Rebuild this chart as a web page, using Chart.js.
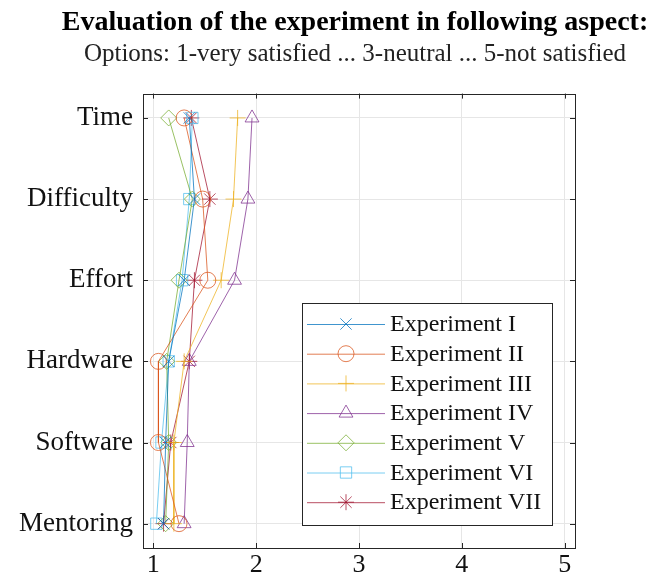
<!DOCTYPE html>
<html><head><meta charset="utf-8">
<script src="https://cdn.jsdelivr.net/npm/chart.js@4.4.1/dist/chart.umd.min.js"></script>
<style>html,body{margin:0;padding:0;background:#fff;overflow:hidden}#wrap{width:651px;height:578px;position:relative;overflow:hidden}#c{position:absolute;left:0;top:0}</style>
</head><body><div id="wrap"><canvas id="c" width="710" height="578"></canvas></div>
<script>
const categories = ['Time', 'Difficulty', 'Effort', 'Hardware', 'Software', 'Mentoring'];
const seriesNames = ['Experiment I', 'Experiment II', 'Experiment III', 'Experiment IV', 'Experiment V', 'Experiment VI', 'Experiment VII'];
const expI   = [1.35, 1.40, 1.30, 1.15, 1.12, 1.10];
const expII  = [1.30, 1.48, 1.53, 1.05, 1.05, 1.25];
const expIII = [1.82, 1.78, 1.66, 1.30, 1.20, 1.20];
const expIV  = [1.96, 1.92, 1.79, 1.35, 1.33, 1.30];
const expV   = [1.15, 1.38, 1.25, 1.13, 1.15, 1.12];
const expVI  = [1.38, 1.35, 1.28, 1.15, 1.08, 1.03];
const expVII = [1.37, 1.55, 1.40, 1.35, 1.17, 1.10];
const xTicks = [1, 2, 3, 4, 5];
const titleText = 'Evaluation of the experiment in following aspect:';
const subtitleText = 'Options: 1-very satisfied ... 3-neutral ... 5-not satisfied';

const allSeries = [expI, expII, expIII, expIV, expV, expVI, expVII];
const colors = ['rgba(0,114,189,0.75)', 'rgba(217,83,25,0.75)', 'rgba(237,177,32,0.75)', 'rgba(126,47,142,0.75)', 'rgba(119,172,48,0.75)', 'rgba(77,190,238,0.75)', 'rgba(162,20,47,0.75)'];
const styles = ['crossRot', 'circle', 'cross', 'triangle', 'rectRot', 'rect', 'star'];
const FONT = "'Liberation Serif', 'Times New Roman', serif";

const datasets = allSeries.map((vals, k) => ({
  label: seriesNames[k],
  data: vals.map((v, i) => ({ x: v, y: categories.length - i })),
  borderColor: colors[k],
  backgroundColor: 'rgba(0,0,0,0)',
  pointBorderColor: colors[k],
  pointBackgroundColor: 'rgba(0,0,0,0)',
  pointStyle: styles[k],
  pointRadius: 8,
  pointBorderWidth: 1,
  borderWidth: 1,
  showLine: true,
  tension: 0
}));

function drawMark(ctx, style, x, y, r, color) {
  ctx.save();
  ctx.strokeStyle = color; ctx.lineWidth = 1;
  if (Chart.helpers && Chart.helpers.drawPoint) {
    ctx.fillStyle = 'rgba(0,0,0,0)';
    Chart.helpers.drawPoint(ctx, { pointStyle: style, radius: r, rotation: 0, borderWidth: 1 }, x, y);
  }
  ctx.restore();
}

const framePlugin = {
  id: 'frame',
  afterDatasetsDraw(chart) {
    const ctx = chart.ctx, a = chart.chartArea;
    const xs = chart.scales.x, ys = chart.scales.y;
    ctx.save();
    ctx.strokeStyle = '#262626'; ctx.lineWidth = 1;
    ctx.strokeRect(Math.round(a.left) + 0.5, Math.round(a.top) + 0.5, Math.round(a.right - a.left), Math.round(a.bottom - a.top));
    ctx.beginPath();
    xTicks.forEach(v => {
      const px = Math.round(xs.getPixelForValue(v)) + 0.5;
      ctx.moveTo(px, a.bottom); ctx.lineTo(px, a.bottom - 5);
      ctx.moveTo(px, a.top); ctx.lineTo(px, a.top + 5);
    });
    categories.forEach((c, i) => {
      const py = Math.round(ys.getPixelForValue(categories.length - i)) + 0.5;
      ctx.moveTo(a.left, py); ctx.lineTo(a.left + 5, py);
      ctx.moveTo(a.right, py); ctx.lineTo(a.right - 5, py);
    });
    ctx.stroke();
    // legend
    const lx = 302, ly = 303, lw = 250, lh = 222, row = 29.7;
    ctx.fillStyle = '#fff';
    ctx.fillRect(lx, ly, lw, lh);
    ctx.strokeStyle = '#262626';
    ctx.strokeRect(lx + 0.5, ly + 0.5, lw, lh);
    ctx.font = "24px " + FONT;
    ctx.textBaseline = 'middle';
    ctx.textAlign = 'left';
    seriesNames.forEach((n, k) => {
      const yy = ly + 21 + k * row;
      ctx.strokeStyle = colors[k]; ctx.lineWidth = 1;
      ctx.beginPath(); ctx.moveTo(lx + 5, yy + 0.5); ctx.lineTo(lx + 83, yy + 0.5); ctx.stroke();
      drawMark(ctx, styles[k], lx + 44, yy, 8, colors[k]);
      ctx.fillStyle = '#111';
      ctx.fillText(n, lx + 88, yy + 1);
    });
    ctx.restore();
  }
};

new Chart(document.getElementById('c'), {
  type: 'scatter',
  data: { datasets },
  options: {
    responsive: false,
    animation: false,
    devicePixelRatio: 1,
    layout: { padding: { left: 0, right: 0, top: 0, bottom: 0 } },
    plugins: {
      legend: { display: false },
      tooltip: { enabled: false },
      title: { display: true, text: titleText, color: '#000', font: { family: FONT, size: 28, weight: 'bold' }, padding: { top: 6, bottom: 0 } },
      subtitle: { display: true, text: subtitleText, color: '#222', font: { family: FONT, size: 25 }, padding: { top: 0, bottom: 24 } }
    },
    scales: {
      x: {
        type: 'linear', min: 0.9, max: 5.1,
        afterBuildTicks: s => { s.ticks = xTicks.map(v => ({ value: v })); },
        afterFit: s => { s.height = 30; },
        grid: { color: '#e6e6e6', drawTicks: false },
        border: { display: false },
        ticks: { color: '#111', font: { family: FONT, size: 26 }, padding: 2 }
      },
      y: {
        type: 'linear', min: 0.7, max: 6.3,
        afterBuildTicks: s => { s.ticks = categories.map((c, i) => ({ value: categories.length - i })); },
        afterFit: s => { s.width = 143; },
        grid: { color: '#e6e6e6', drawTicks: false },
        border: { display: false },
        ticks: { color: '#111', font: { family: FONT, size: 27 }, padding: 10, callback: v => categories[categories.length - v] }
      },
      yR: {
        type: 'linear', position: 'right', min: 0, max: 1, display: true,
        afterFit: s => { s.width = 135; },
        grid: { display: false, drawTicks: false },
        border: { display: false },
        ticks: { display: false }
      }
    }
  },
  plugins: [framePlugin]
});
</script>
</body></html>
